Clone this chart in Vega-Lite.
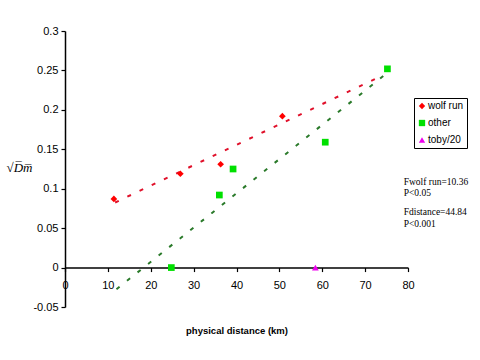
{
  "$schema": "https://vega.github.io/schema/vega-lite/v6.json",
  "width": 343,
  "height": 276,
  "autosize": {"type": "none"},
  "padding": {"left": 65, "top": 31, "right": 72, "bottom": 53},
  "background": "white",
  "config": {
    "view": {"stroke": null},
    "axis": {"grid": false, "domainColor": "black", "tickColor": "black", "labelColor": "black", "titleColor": "black", "labelFont": "Liberation Sans", "labelFontSize": 11, "domainWidth": 1.5, "tickWidth": 1.2, "labelOverlap": false, "labelFlush": false, "labelBound": false}
  },
  "datasets": {
    "pts": [
      {"series": "wolf run", "distance": 11.4, "dm": 0.087},
      {"series": "wolf run", "distance": 26.9, "dm": 0.119},
      {"series": "wolf run", "distance": 36.3, "dm": 0.131},
      {"series": "wolf run", "distance": 50.7, "dm": 0.192},
      {"series": "other", "distance": 24.8, "dm": 0.0},
      {"series": "other", "distance": 36.0, "dm": 0.092},
      {"series": "other", "distance": 39.2, "dm": 0.125},
      {"series": "other", "distance": 60.7, "dm": 0.159},
      {"series": "other", "distance": 75.2, "dm": 0.252},
      {"series": "toby/20", "distance": 58.4, "dm": 0.0}
    ],
    "fits": [
      {"fit": "wolf run", "distance": 11.7, "dm": 0.0825},
      {"fit": "wolf run", "distance": 74.0, "dm": 0.2435},
      {"fit": "other", "distance": 12.0, "dm": -0.0275},
      {"fit": "other", "distance": 74.5, "dm": 0.244}
    ],
    "notes": [
      {"label": "Fwolf run=10.36", "distance": 79.0, "dm": 0.109},
      {"label": "P<0.05", "distance": 79.0, "dm": 0.094},
      {"label": "Fdistance=44.84", "distance": 79.0, "dm": 0.070},
      {"label": "P<0.001", "distance": 79.0, "dm": 0.055}
    ]
  },
  "layer": [
    {
      "data": {"name": "fits"},
      "mark": {"type": "line", "strokeWidth": 2, "strokeDash": [4, 9.5]},
      "encoding": {
        "x": {"field": "distance", "type": "quantitative", "scale": {"domain": [0, 80], "nice": false},
          "axis": {"values": [0, 10, 20, 30, 40, 50, 60, 70, 80], "offset": -39.43, "tickSize": 4, "labelPadding": 8, "labelOverlap": false, "title": "physical distance (km)", "titleFont": "Liberation Sans", "titleFontSize": 9.5, "titleFontWeight": "bold", "titlePadding": 35}},
        "y": {"field": "dm", "type": "quantitative", "scale": {"domain": [-0.05, 0.3], "nice": false, "zero": false},
          "axis": {"values": [-0.05, 0, 0.05, 0.1, 0.15, 0.2, 0.25, 0.3], "format": ".2~f", "labelExpr": "replace(format(datum.value, '.2~f'), '\u2212', '-')", "labelOverlap": false, "tickCount": 8, "tickSize": 4, "labelPadding": 3, "title": "√D̅m̅", "titleAngle": 0, "titleX": -46, "titleY": 136, "titleAlign": "center", "titleBaseline": "middle", "titleFont": "Liberation Serif", "titleFontStyle": "italic", "titleFontWeight": "normal", "titleFontSize": 13}},
        "stroke": {"field": "fit", "type": "nominal", "scale": {"domain": ["wolf run", "other"], "range": ["#e0102a", "#2a7a2a"]}, "legend": null}
      }
    },
    {
      "data": {"name": "pts"},
      "mark": {"type": "point", "filled": true, "opacity": 1, "strokeWidth": 1},
      "encoding": {
        "x": {"field": "distance", "type": "quantitative"},
        "y": {"field": "dm", "type": "quantitative"},
        "color": {"field": "series", "type": "nominal", "scale": {"domain": ["wolf run", "other", "toby/20"], "range": ["#ff0000", "#00e000", "#ee00ee"]},
          "legend": {"title": null, "orient": "none", "legendX": 349, "legendY": 67, "strokeColor": "black", "fillColor": "white", "padding": 3, "rowPadding": 7, "labelFont": "Liberation Sans", "labelFontSize": 10, "labelColor": "black", "labelOffset": 1, "symbolSize": 40, "symbolStrokeWidth": 1}},
        "shape": {"field": "series", "type": "nominal", "scale": {"domain": ["wolf run", "other", "toby/20"], "range": ["diamond", "square", "triangle-up"]}},
        "size": {"value": 45}
      }
    },
    {
      "data": {"name": "notes"},
      "mark": {"type": "text", "align": "left", "baseline": "middle", "font": "Liberation Serif", "fontSize": 9.5, "color": "black"},
      "encoding": {
        "x": {"field": "distance", "type": "quantitative"},
        "y": {"field": "dm", "type": "quantitative"},
        "text": {"field": "label"}
      }
    }
  ]
}
